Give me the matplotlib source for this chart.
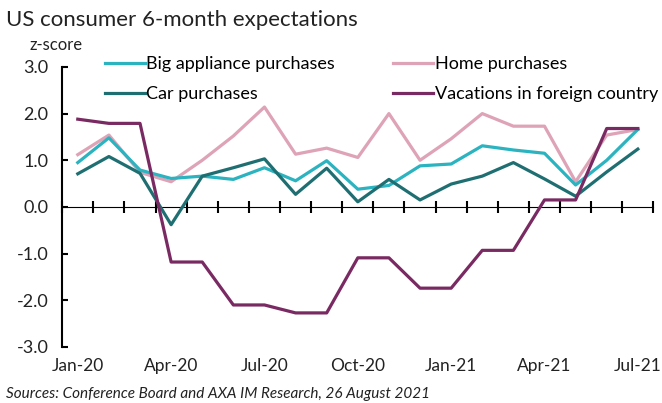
import numpy as np
import matplotlib
matplotlib.use("Agg")
import matplotlib.pyplot as plt

plt.rcParams['font.family'] = ['Lato', 'DejaVu Sans']
plt.rcParams['axes.unicode_minus'] = False

months = ['Jan-20', 'Feb-20', 'Mar-20', 'Apr-20', 'May-20', 'Jun-20', 'Jul-20',
          'Aug-20', 'Sep-20', 'Oct-20', 'Nov-20', 'Dec-20', 'Jan-21', 'Feb-21',
          'Mar-21', 'Apr-21', 'May-21', 'Jun-21', 'Jul-21']

appliance = [0.95, 1.48, 0.79, 0.61, 0.66, 0.59, 0.84, 0.56, 0.99, 0.38,
             0.46, 0.88, 0.92, 1.31, 1.22, 1.15, 0.47, 1.00, 1.66]
home = [1.12, 1.54, 0.74, 0.54, 1.00, 1.52, 2.14, 1.13, 1.26, 1.06,
        2.00, 1.00, 1.46, 2.00, 1.73, 1.73, 0.54, 1.54, 1.66]
car = [0.71, 1.08, 0.72, -0.38, 0.66, 0.84, 1.03, 0.27, 0.83, 0.11,
       0.59, 0.15, 0.49, 0.66, 0.95, 0.60, 0.23, 0.75, 1.24]
vacations = [1.88, 1.79, 1.79, -1.18, -1.18, -2.10, -2.10, -2.27, -2.27, -1.09,
             -1.09, -1.74, -1.74, -0.93, -0.93, 0.15, 0.15, 1.68, 1.68]

c_app = '#2bb3c0'
c_home = '#dea3b6'
c_car = '#1f6f72'
c_vac = '#7a2a62'

fig = plt.figure(figsize=(6.62, 4.03), dpi=100)
ax = fig.add_axes([0.094, 0.139, 0.893, 0.695])

x = np.arange(len(months))
lw = 2.3
l_home, = ax.plot(x, home, color=c_home, lw=lw, label='Home purchases')
l_app, = ax.plot(x, appliance, color=c_app, lw=lw, label='Big appliance purchases')
l_car, = ax.plot(x, car, color=c_car, lw=lw, label='Car purchases')
l_vac, = ax.plot(x, vacations, color=c_vac, lw=lw, label='Vacations in foreign country')

ax.set_xlim(-0.5, len(months) - 0.5)
ax.set_ylim(-3, 3)

for s in ['top', 'right', 'bottom']:
    ax.spines[s].set_visible(False)
ax.spines['left'].set_linewidth(1.5)

ax.set_yticks(np.arange(-3, 4, 1))
ax.set_yticklabels([f'{v:.1f}' for v in np.arange(-3, 4, 1)], fontsize=13, color='#222222')
ax.tick_params(axis='y', direction='in', length=4, width=1.5, pad=10)

ax.set_xticks(x[::3])
ax.set_xticklabels(months[::3], fontsize=12.5, color='#222222')
ax.tick_params(axis='x', length=0, pad=8)

# zero line carrying the month tick marks
sec = ax.secondary_xaxis(0.5)
sec.set_xticks(np.arange(len(months) + 1) - 0.5)
sec.set_xticklabels([])
sec.tick_params(direction='inout', length=9, width=1.5)
sec.spines['bottom'].set_linewidth(1.5)

ax.legend([l_app, l_car, l_home, l_vac],
          ['Big appliance purchases', 'Car purchases', 'Home purchases',
           'Vacations in foreign country'],
          ncol=2, loc='upper left', bbox_to_anchor=(0.06, 1.065), frameon=False,
          fontsize=13, handlelength=2.2, handletextpad=0.1, columnspacing=3.2,
          labelspacing=0.8, borderaxespad=0)

fig.text(0.009, 0.95, 'US consumer 6-month expectations', fontsize=16, color='#222222', va='center')
fig.text(0.045, 0.888, 'z-score', fontsize=12, color='#222222', va='center')
fig.text(0.009, 0.022, 'Sources: Conference Board and AXA IM Research, 26 August 2021',
         fontsize=11, style='italic', color='#222222', va='center')

fig.savefig('out.png', dpi=100)
